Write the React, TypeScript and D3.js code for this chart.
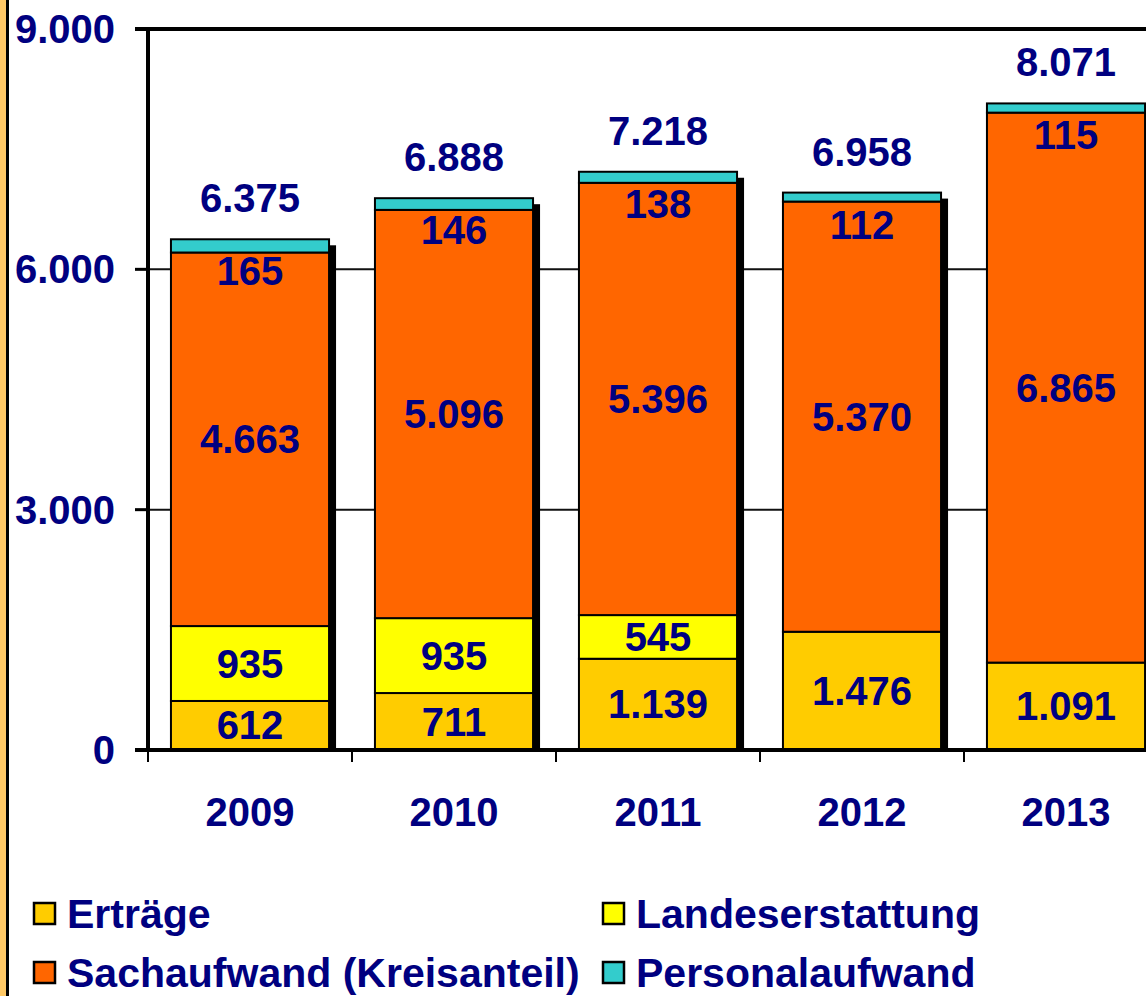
import React from "react";
import * as d3 from "d3";

const years = ["2009", "2010", "2011", "2012", "2013"];
const ertraege = [612, 711, 1139, 1476, 1091];
const landeserstattung = [935, 935, 545, 0, 0];
const sachaufwand = [4663, 5096, 5396, 5370, 6865];
const personalaufwand = [165, 146, 138, 112, 115];
const yTicks = [0, 3000, 6000, 9000];

const seriesNames = ["Erträge", "Landeserstattung", "Sachaufwand (Kreisanteil)", "Personalaufwand"];
const seriesColors = ["#FFCC00", "#FFFF00", "#FF6600", "#33CCCC"];

const W = 1146;
const H = 996;
const NAVY = "#000080";
const FONT = "'Liberation Sans', Arial, sans-serif";

const fmt = (v: number) => {
  const s = Math.round(v).toString();
  return s.replace(/\B(?=(\d{3})+(?!\d))/g, ".");
};

export default function App() {
  const x = d3.scaleBand<string>().domain(years).range([148, 1168]).paddingInner(0.225).paddingOuter(0.1125);
  const y = d3.scaleLinear().domain([0, 9000]).range([750, 29]);

  const rows = years.map((yr, i) => ({
    year: yr,
    e: ertraege[i],
    l: landeserstattung[i],
    s: sachaufwand[i],
    p: personalaufwand[i],
  }));
  const stack = d3.stack<any>().keys(["e", "l", "s", "p"])(rows);
  const totals = rows.map((r) => r.e + r.l + r.s + r.p);

  const bw = x.bandwidth();

  return (
    <svg
      width={W}
      height={H}
      style={{ position: "absolute", left: 0, top: 0, background: "#fff" }}
      fontFamily={FONT}
    >
      <rect x={0} y={0} width={W} height={H} fill="#fff" />
      {/* left decorative strip */}
      <rect x={0} y={0} width={6} height={H} fill="#FFC966" />
      <rect x={6} y={0} width={3} height={H} fill="#000" />

      {/* gridlines */}
      {yTicks.filter((t) => t > 0 && t < 9000).map((t) => (
        <line key={t} x1={148} x2={W} y1={y(t)} y2={y(t)} stroke="#111" strokeWidth={2} />
      ))}
      {/* top border */}
      <line x1={135} x2={W} y1={y(9000)} y2={y(9000)} stroke="#000" strokeWidth={4} />

      {/* shadows */}
      {rows.map((r, i) => (
        <rect key={"sh" + i} x={(x(r.year) as number) + 7} y={y(totals[i]) + 6} width={bw} height={y(0) - y(totals[i]) - 6} fill="#000" />
      ))}

      {/* bars */}
      {stack.map((layer, li) =>
        layer.map((d, i) => {
          const v = d[1] - d[0];
          if (v <= 0) return null;
          return (
            <rect
              key={li + "-" + i}
              x={x(years[i]) as number}
              y={y(d[1])}
              width={bw}
              height={y(d[0]) - y(d[1])}
              fill={seriesColors[li]}
              stroke="#000"
              strokeWidth={2}
            />
          );
        })
      )}

      {/* axes */}
      <line x1={148} x2={148} y1={y(9000) - 2} y2={y(0) + 2} stroke="#000" strokeWidth={4} />
      <line x1={135} x2={W} y1={y(0)} y2={y(0)} stroke="#000" strokeWidth={4} />
      {yTicks.map((t) => (
        <line key={"yt" + t} x1={135} x2={148} y1={y(t)} y2={y(t)} stroke="#000" strokeWidth={3} />
      ))}
      {years.map((yr) => (
        <line key={"xt" + yr} x1={(x(yr) as number) - (x.step() - bw) / 2} x2={(x(yr) as number) - (x.step() - bw) / 2} y1={y(0)} y2={y(0) + 12} stroke="#000" strokeWidth={2} />
      ))}

      {/* y tick labels */}
      {yTicks.map((t) => (
        <text key={"yl" + t} x={115} y={y(t)} textAnchor="end" dominantBaseline="central" fontSize={40} fontWeight="bold" fill={NAVY}>
          {fmt(t)}
        </text>
      ))}
      {/* x labels */}
      {years.map((yr) => (
        <text key={"xl" + yr} x={(x(yr) as number) + bw / 2} y={812} textAnchor="middle" dominantBaseline="central" fontSize={40} fontWeight="bold" fill={NAVY}>
          {yr}
        </text>
      ))}

      {/* segment labels */}
      {stack.map((layer, li) =>
        layer.map((d, i) => {
          const v = d[1] - d[0];
          if (v <= 0) return null;
          const cx = (x(years[i]) as number) + bw / 2;
          const cy = li === 3 ? y(d[1]) + 32 : (y(d[0]) + y(d[1])) / 2;
          return (
            <text key={"lab" + li + "-" + i} x={cx} y={cy} textAnchor="middle" dominantBaseline="central" fontSize={40} fontWeight="bold" fill={NAVY}>
              {fmt(v)}
            </text>
          );
        })
      )}
      {/* totals */}
      {rows.map((r, i) => (
        <text key={"tot" + i} x={(x(r.year) as number) + bw / 2} y={y(totals[i]) - 41} textAnchor="middle" dominantBaseline="central" fontSize={40} fontWeight="bold" fill={NAVY}>
          {fmt(totals[i])}
        </text>
      ))}

      {/* legend */}
      {seriesNames.map((name, i) => {
        const col = i % 2;
        const row = Math.floor(i / 2);
        const lx = col === 0 ? 34 : 603;
        const ly = 914 + row * 59;
        return (
          <g key={"lg" + i}>
            <rect x={lx} y={ly - 11} width={21} height={21} fill={seriesColors[i]} stroke="#000" strokeWidth={2.5} />
            <text x={lx + 33} y={ly} dominantBaseline="central" fontSize={41} fontWeight="bold" fill={NAVY}>
              {name}
            </text>
          </g>
        );
      })}
    </svg>
  );
}
